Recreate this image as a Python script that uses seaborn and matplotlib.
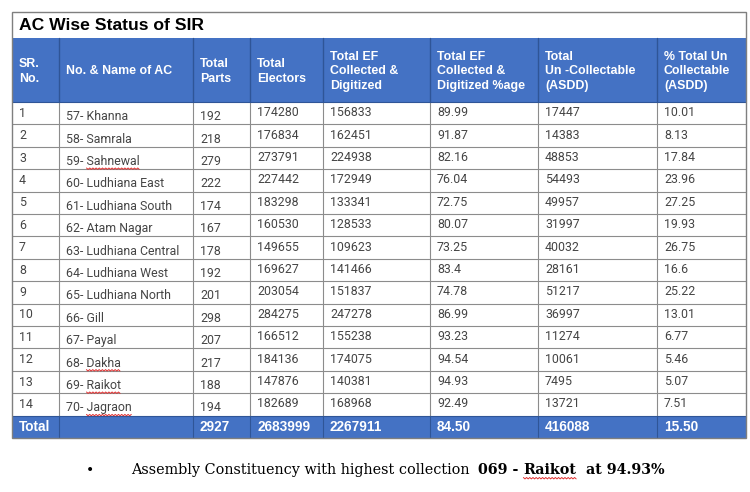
import matplotlib
matplotlib.use("Agg")
import matplotlib.pyplot as plt
import seaborn as sns
import numpy as np
import pandas as pd
from matplotlib.patches import Rectangle

# ---------------- data ----------------
title = "AC Wise Status of SIR"
headers = ["SR.\nNo.", "No. & Name of AC", "Total\nParts", "Total\nElectors",
           "Total EF\nCollected &\nDigitized", "Total EF\nCollected &\nDigitized %age",
           "Total\nUn -Collectable\n(ASDD)", "% Total Un\nCollectable\n(ASDD)"]
sr_no = ["1", "2", "3", "4", "5", "6", "7", "8", "9", "10", "11", "12", "13", "14"]
ac_numbers = ["57", "58", "59", "60", "61", "62", "63", "64", "65", "66", "67", "68", "69", "70"]
ac_names = ["Khanna", "Samrala", "Sahnewal", "Ludhiana East", "Ludhiana South", "Atam Nagar",
            "Ludhiana Central", "Ludhiana West", "Ludhiana North", "Gill", "Payal", "Dakha",
            "Raikot", "Jagraon"]
total_parts = [192, 218, 279, 222, 174, 167, 178, 192, 201, 298, 207, 217, 188, 194]
total_electors = [174280, 176834, 273791, 227442, 183298, 160530, 149655, 169627, 203054,
                  284275, 166512, 184136, 147876, 182689]
ef_collected = [156833, 162451, 224938, 172949, 133341, 128533, 109623, 141466, 151837,
                247278, 155238, 174075, 140381, 168968]
ef_pct = ["89.99", "91.87", "82.16", "76.04", "72.75", "80.07", "73.25", "83.4", "74.78",
          "86.99", "93.23", "94.54", "94.93", "92.49"]
uncollectable = [17447, 14383, 48853, 54493, 49957, 31997, 40032, 28161, 51217, 36997,
                 11274, 10061, 7495, 13721]
uncollect_pct = ["10.01", "8.13", "17.84", "23.96", "27.25", "19.93", "26.75", "16.6",
                 "25.22", "13.01", "6.77", "5.46", "5.07", "7.51"]
total_label = "Total"
totals = ["2927", "2683999", "2267911", "84.50", "416088", "15.50"]
spellcheck_names = ["Sahnewal", "Dakha", "Raikot", "Jagraon"]
note_regular = "Assembly Constituency with highest collection"
note_bold_a = "069 - "
note_bold_b = "Raikot"
note_bold_c = "  at 94.93%"

df = pd.DataFrame({
    "sr": sr_no,
    "name": [f"{n}- {a}" for n, a in zip(ac_numbers, ac_names)],
    "parts": [str(v) for v in total_parts],
    "electors": [str(v) for v in total_electors],
    "ef": [str(v) for v in ef_collected],
    "efpct": ef_pct,
    "unc": [str(v) for v in uncollectable],
    "uncpct": uncollect_pct,
})

# ---------------- style ----------------
sns.set_theme(style="white")
plt.rcParams["font.family"] = ["Liberation Sans", "DejaVu Sans"]

BLUE = "#4472C4"
DARKBLUE = "#2F5597"
GRID = "#8C8C8C"
TXT = "#454545"
BODY_FONT = dict(family="Roboto", fontweight="normal", fontsize=8.9)

col_edges = [12, 59, 193, 250, 323, 430, 538, 657, 746]
y_top, y_title, y_head = 12, 38, 102
row_h = 22.4
y_total = y_head + row_h * len(df)
y_bottom = y_total + 22
pad = 7
col_dy = [0.0, 3.5, 3.5, -0.5, -0.5, -0.5, -0.5, -0.5]

fig = plt.figure(figsize=(7.5, 4.92), dpi=100)
ax = fig.add_axes([0, 0, 1, 1])
ax.set_xlim(0, 750)
ax.set_ylim(492, 0)
ax.axis("off")

# fills
ax.add_patch(Rectangle((col_edges[0], y_title), col_edges[-1] - col_edges[0], y_head - y_title,
                       facecolor=BLUE, edgecolor="none", zorder=1))
ax.add_patch(Rectangle((col_edges[0], y_total), col_edges[-1] - col_edges[0], y_bottom - y_total,
                       facecolor=BLUE, edgecolor="none", zorder=1))

# grid lines
for i in range(1, len(df)):
    y = y_head + i * row_h
    ax.plot([col_edges[0], col_edges[-1]], [y, y], color=GRID, lw=0.8, zorder=2)
for x in col_edges[1:-1]:
    ax.plot([x, x], [y_title, y_head], color=DARKBLUE, lw=1.0, zorder=2)
    ax.plot([x, x], [y_head, y_total], color=GRID, lw=0.8, zorder=2)
    ax.plot([x, x], [y_total, y_bottom], color=DARKBLUE, lw=0.8, zorder=2)
ax.add_patch(Rectangle((col_edges[0], y_top), col_edges[-1] - col_edges[0], y_bottom - y_top,
                       facecolor="none", edgecolor="#7F7F7F", lw=1.0, zorder=3))
ax.plot([col_edges[0], col_edges[-1]], [y_head, y_head], color=DARKBLUE, lw=0.8, zorder=2)
ax.plot([col_edges[0], col_edges[-1]], [y_total, y_total], color=DARKBLUE, lw=0.8, zorder=2)

# title
ax.text(col_edges[0] + 7, (y_top + y_title) / 2 + 1, title, fontsize=12.6, fontweight="bold",
        color="black", ha="left", va="center", zorder=4)

# header
for j, h in enumerate(headers):
    ax.text(col_edges[j] + pad, (y_title + y_head) / 2 + 1.5, h, fontsize=8.9, fontweight="bold",
            color="white", ha="left", va="center", linespacing=1.25, zorder=4)

# body
for i, row in enumerate(df.itertuples(index=False)):
    yc = y_head + (i + 0.5) * row_h
    for j, val in enumerate(row):
        ax.text(col_edges[j] + pad, yc + col_dy[j], val, color=TXT, ha="left", va="center",
                zorder=4, **BODY_FONT)

# total row
yc = (y_total + y_bottom) / 2
tot_kw = dict(fontsize=9.8, family="Liberation Sans", fontweight="bold", color="white",
              ha="left", va="center", zorder=4)
ax.text(col_edges[0] + pad, yc, total_label, **tot_kw)
for j, val in enumerate(totals):
    ax.text(col_edges[j + 2] + pad, yc, val, **tot_kw)

fig.canvas.draw()
r = fig.canvas.get_renderer()


def width_of(s, **kw):
    tmp = ax.text(0, 0, s, **kw)
    w = tmp.get_window_extent(r).width
    tmp.remove()
    return w


def squiggle(x0, x1, y):
    xs = np.arange(x0, x1 + 0.01, 1.6)
    ys = y + np.where(np.arange(len(xs)) % 2 == 0, 0.0, 1.4)
    ax.plot(xs, ys, color="#E03030", lw=0.7, zorder=5)


# bottom note (font sizes fitted to the source's text extents)
note_y = 470
ax.text(90, note_y, "\u2022", fontsize=10, color="black", ha="center", va="center",
        family="DejaVu Sans")
reg_kw = dict(family="DejaVu Serif", color="black", ha="left", va="center")
w10 = width_of(note_regular, fontsize=10, **reg_kw)
reg_size = 10 * (472 - 131) / w10
ax.text(131, note_y, note_regular, fontsize=reg_size, **reg_kw)

bold_kw = dict(family="DejaVu Serif", fontweight="bold", color="black", ha="left", va="center")
full_bold = note_bold_a + note_bold_b + note_bold_c
wb10 = width_of(full_bold.replace(" ", "\u00a0"), fontsize=10, **bold_kw)
bold_size = 10 * (665 - 478) / wb10
bold_kw["fontsize"] = bold_size
xa = 478
ax.text(xa, note_y, note_bold_a, **bold_kw)
xb = xa + width_of(note_bold_a.replace(" ", "\u00a0"), **bold_kw)
ax.text(xb, note_y, note_bold_b, **bold_kw)
wb = width_of(note_bold_b, **bold_kw)
ax.text(xb + wb, note_y, note_bold_c, **bold_kw)
squiggle(xb, xb + wb, note_y + 7.5)

# spell-check squiggles in table
for i in range(len(df)):
    if ac_names[i] in spellcheck_names:
        prefix = f"{ac_numbers[i]}-\u00a0"
        x0 = col_edges[1] + pad + width_of(prefix, **BODY_FONT)
        x1 = col_edges[1] + pad + width_of(df["name"][i], **BODY_FONT)
        yc = y_head + (i + 0.5) * row_h + col_dy[1]
        squiggle(x0, x1, yc + 6.5)

fig.savefig("out.png", dpi=100, facecolor="white")
